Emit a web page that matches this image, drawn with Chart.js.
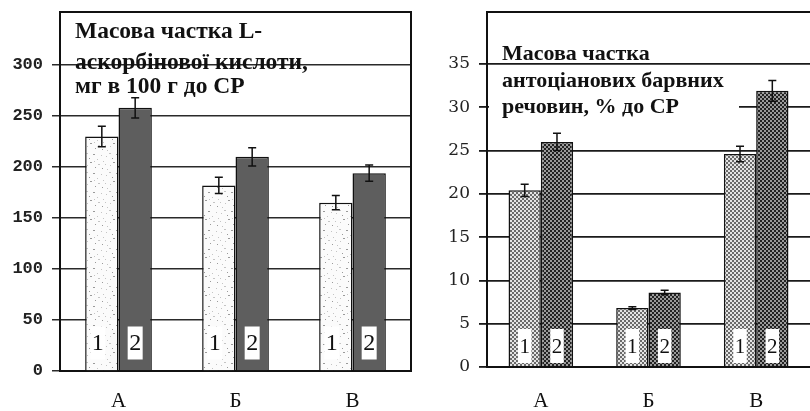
<!DOCTYPE html>
<html>
<head>
<meta charset="utf-8">
<script src="https://cdn.jsdelivr.net/npm/chart.js"></script>
<style>
  html, body { margin: 0; padding: 0; background: #fff; }
  #wrap { position: relative; width: 810px; height: 411px; overflow: hidden; }
  #c1 { position: absolute; left: 0; top: 0; }
  #c2 { position: absolute; left: 412px; top: 0; }
</style>
</head>
<body>
<div id="wrap">
  <canvas id="c1" width="412" height="411"></canvas>
  <canvas id="c2" width="398" height="411"></canvas>
</div>
<script>
// categories and series
const categories = ['А', 'Б', 'В'];
const seriesNames = ['1', '2'];

// left: L-ascorbic acid, mg per 100 g DM
const ascorbic1 = [230, 182, 165];
const ascorbic2 = [258, 210, 194];
const ascorbicErr1 = [10, 8, 7];
const ascorbicErr2 = [10, 9, 8];
const ascorbicTicks = [0, 50, 100, 150, 200, 250, 300];
const ascorbicTitle = ['Масова частка L-', 'аскорбінової кислоти,', 'мг в 100 г до СР'];

// right: anthocyanins, % DM
const antho1 = [20.4, 6.8, 24.6];
const antho2 = [26.0, 8.6, 31.9];
const anthoErr1 = [0.7, 0.15, 0.9];
const anthoErr2 = [1.0, 0.25, 1.2];
const anthoTicks = [0, 5, 10, 15, 20, 25, 30, 35];
const anthoTitle = ['Масова частка', 'антоціанових барвних', 'речовин, % до СР'];

// fills
function speckle() {
  const c = document.createElement('canvas');
  c.width = 23; c.height = 19;
  const g = c.getContext('2d');
  g.fillStyle = '#fbfbfb'; g.fillRect(0, 0, 23, 19);
  const dots = [[1,2],[5,7],[9,3],[3,15],[17,1],[11,9],[20,6],[14,4],[6,12],[10,16],[18,13],[15,17],[21,10],[2,9],[13,12]];
  dots.forEach(([x, y], k) => {
    g.fillStyle = k % 3 ? '#c4c4c4' : '#9a9a9a';
    g.fillRect(x, y, k % 4 ? 1 : 2, 1);
  });
  return g.createPattern(c, 'repeat');
}
function checker(light, dark) {
  const c = document.createElement('canvas');
  c.width = 4; c.height = 4;
  const g = c.getContext('2d');
  g.fillStyle = light; g.fillRect(0, 0, 4, 4);
  g.fillStyle = dark;
  g.fillRect(0, 0, 2, 2); g.fillRect(2, 2, 2, 2);
  return g.createPattern(c, 'repeat');
}

const decorPlugin = {
  id: 'decor',
  afterDatasetsDraw(chart, args, o) {
    const { ctx, chartArea: a, scales: { y } } = chart;
    ctx.save();
    // error bars
    ctx.strokeStyle = '#111';
    ctx.lineWidth = 1.5;
    chart.data.datasets.forEach((ds, i) => {
      chart.getDatasetMeta(i).data.forEach((bar, j) => {
        const v = ds.data[j], e = o.errors[i][j];
        const t = y.getPixelForValue(v + e), b = y.getPixelForValue(v - e);
        ctx.beginPath();
        ctx.moveTo(bar.x, t); ctx.lineTo(bar.x, b);
        ctx.moveTo(bar.x - 4, t); ctx.lineTo(bar.x + 4, t);
        ctx.moveTo(bar.x - 4, b); ctx.lineTo(bar.x + 4, b);
        ctx.stroke();
      });
    });
    // series number tags
    ctx.font = o.tagFont;
    ctx.textAlign = 'center';
    ctx.textBaseline = 'middle';
    chart.data.datasets.forEach((ds, i) => {
      chart.getDatasetMeta(i).data.forEach(bar => {
        const x = bar.x + o.tagShift[i], yy = a.bottom - o.tagLift;
        const w = ctx.measureText(ds.label).width + 3;
        ctx.fillStyle = '#fff';
        ctx.fillRect(x - w / 2, yy - o.tagH / 2, w, o.tagH);
        ctx.fillStyle = '#111';
        ctx.fillText(ds.label, x, yy + 1);
      });
    });
    ctx.restore();
  },
  afterDraw(chart, args, o) {
    const { ctx, chartArea: a } = chart;
    ctx.save();
    ctx.strokeStyle = '#111';
    ctx.lineWidth = 2;
    ctx.beginPath();
    ctx.moveTo(a.left, a.top); ctx.lineTo(a.right, a.top);
    if (o.rightEdge) ctx.lineTo(a.right, a.bottom);
    ctx.stroke();
    // title block
    ctx.font = o.titleFont;
    ctx.textAlign = 'left';
    ctx.textBaseline = 'alphabetic';
    o.title.forEach((line, k) => {
      if (o.bgLine === k) {
        ctx.fillStyle = '#fff';
        ctx.fillRect(a.left + 2, o.baselines[k] - 17, o.bgWidth, 22);
      }
      ctx.fillStyle = '#111';
      ctx.fillText(line, o.titleX, o.baselines[k]);
    });
    ctx.restore();
  }
};

Chart.defaults.font.family = '"Liberation Serif", serif';

const fixY = w => s => { s.width = w; s.paddingTop = 0; s.paddingBottom = 0; };

new Chart(document.getElementById('c1'), {
  type: 'bar',
  data: {
    labels: categories,
    datasets: [
      { label: seriesNames[0], data: ascorbic1, backgroundColor: speckle(), borderColor: '#111', borderWidth: 1.5 },
      { label: seriesNames[1], data: ascorbic2, backgroundColor: '#5e5e5e', borderColor: '#111', borderWidth: 1.5 }
    ]
  },
  options: {
    responsive: false,
    animation: false,
    layout: { padding: { top: 12, right: 1, left: 0, bottom: 0 } },
    datasets: { bar: { categoryPercentage: 0.57, barPercentage: 1 } },
    plugins: {
      legend: { display: false },
      tooltip: { enabled: false },
      decor: {
        errors: [ascorbicErr1, ascorbicErr2],
        tagFont: '24px "Liberation Serif", serif', tagShift: [-4, 0], tagLift: 28, tagH: 33,
        rightEdge: true, title: ascorbicTitle, titleX: 75, baselines: [38, 69, 93],
        titleFont: 'bold 23.5px "Liberation Serif", serif'
      }
    },
    scales: {
      x: {
        grid: { display: false },
        border: { display: true, color: '#111', width: 2 },
        ticks: { color: '#111', font: { size: 21 }, padding: 10 },
        afterFit: s => { s.height = 40; }
      },
      y: {
        min: 0, max: 352,
        afterBuildTicks: s => { s.ticks = ascorbicTicks.map(v => ({ value: v })); },
        grid: { color: '#2a2a2a', lineWidth: 1.5, tickLength: 8 },
        border: { color: '#111', width: 2 },
        ticks: { color: '#222', font: { family: '"Liberation Mono", monospace', size: 17, weight: 'bold' }, padding: 9 },
        afterFit: fixY(60)
      }
    }
  },
  plugins: [decorPlugin]
});

new Chart(document.getElementById('c2'), {
  type: 'bar',
  data: {
    labels: categories,
    datasets: [
      { label: seriesNames[0], data: antho1, backgroundColor: checker('#e4e4e4', '#6a6a6a'), borderColor: '#111', borderWidth: 1.5 },
      { label: seriesNames[1], data: antho2, backgroundColor: checker('#9a9a9a', '#222'), borderColor: '#111', borderWidth: 1.5 }
    ]
  },
  options: {
    responsive: false,
    animation: false,
    layout: { padding: { top: 12, right: 0, left: 0, bottom: 0 } },
    datasets: { bar: { categoryPercentage: 0.6, barPercentage: 1 } },
    plugins: {
      legend: { display: false },
      tooltip: { enabled: false },
      decor: {
        errors: [anthoErr1, anthoErr2],
        tagFont: '21px "Liberation Serif", serif', tagShift: [0, 0], tagLift: 21, tagH: 34,
        rightEdge: false, title: anthoTitle, titleX: 90, baselines: [60, 87, 113],
        titleFont: 'bold 22px "Liberation Serif", serif',
        bgLine: 2, bgWidth: 250
      }
    },
    scales: {
      x: {
        grid: { display: false },
        border: { display: true, color: '#111', width: 2 },
        ticks: { color: '#111', font: { size: 21 }, padding: 14 },
        afterFit: s => { s.height = 44; }
      },
      y: {
        min: 0, max: 41,
        afterBuildTicks: s => { s.ticks = anthoTicks.map(v => ({ value: v })); },
        grid: { color: '#1a1a1a', lineWidth: 1.8, tickLength: 8 },
        border: { color: '#111', width: 2 },
        ticks: { color: '#222', font: { family: '"DejaVu Serif", serif', size: 17 }, padding: 9 },
        afterFit: fixY(75)
      }
    }
  },
  plugins: [decorPlugin]
});
</script>
</body>
</html>
